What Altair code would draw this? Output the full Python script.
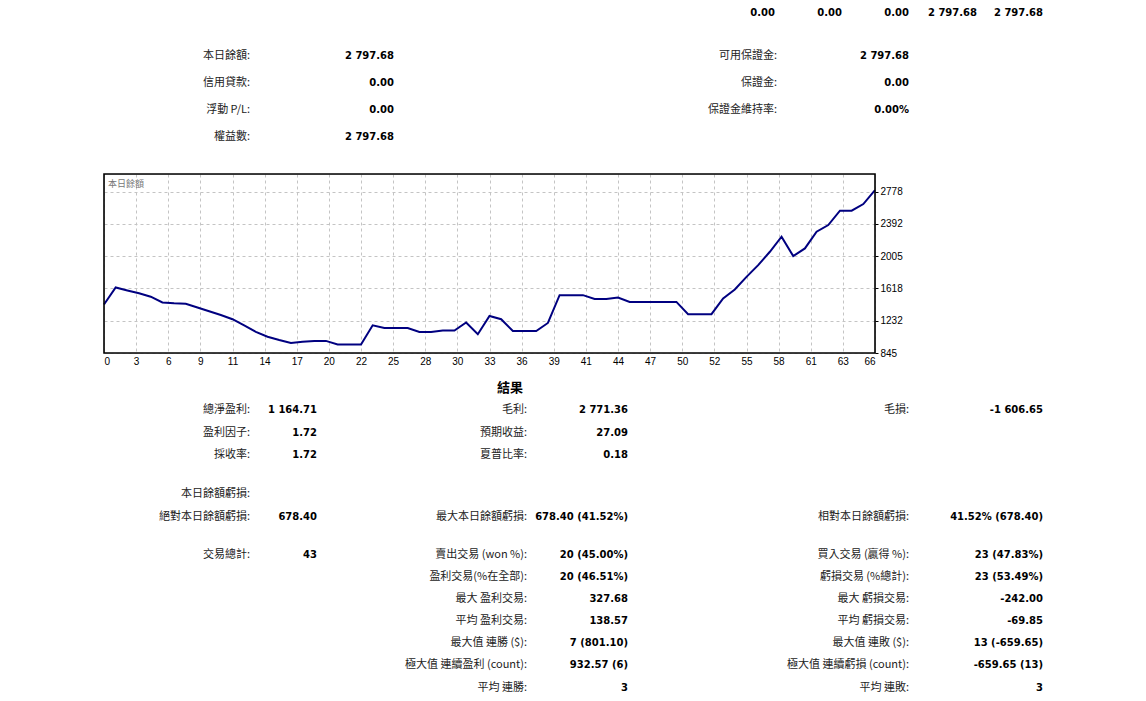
import altair as alt
import pandas as pd

# balance curve (index 0..66)
balance = [1426, 1630, 1595, 1560, 1520, 1450, 1440, 1435, 1390, 1345,
           1300, 1250, 1175, 1098, 1040, 1000, 965, 980, 990, 990,
           946, 946, 946, 1177, 1145, 1145, 1145, 1097, 1097, 1114,
           1114, 1210, 1070, 1289, 1250, 1109, 1109, 1109, 1205, 1538,
           1538, 1538, 1493, 1493, 1510, 1457, 1457, 1457, 1457, 1457,
           1310, 1310, 1310, 1498, 1606, 1757, 1898, 2058, 2238, 2006,
           2098, 2298, 2378, 2550, 2550, 2630, 2797.68]
x_labels = [0, 3, 6, 9, 11, 14, 17, 20, 22, 25, 28, 30, 33, 36, 39, 41,
            44, 47, 50, 52, 55, 58, 61, 63, 66]
y_ticks = [845, 1232, 1618, 2005, 2392, 2778]
chart_caption = "本日餘額"

# report texts
top_values = ["0.00", "0.00", "0.00", "2 797.68", "2 797.68"]
account_labels = ["本日餘額:", "信用貸款:", "浮動 P/L:", "權益數:"]
account_values = ["2 797.68", "0.00", "0.00", "2 797.68"]
margin_labels = ["可用保證金:", "保證金:", "保證金維持率:"]
margin_values = ["2 797.68", "0.00", "0.00%"]
results_title = "結果"
res_left = [("總淨盈利:", "1 164.71"), ("盈利因子:", "1.72"), ("採收率:", "1.72"),
            ("本日餘額虧損:", ""), ("絕對本日餘額虧損:", "678.40")]
res_mid = [("毛利:", "2 771.36"), ("預期收益:", "27.09"), ("夏普比率:", "0.18"),
           None, ("最大本日餘額虧損:", "678.40 (41.52%)")]
res_right = [("毛損:", "-1 606.65"), None, None, None, ("相對本日餘額虧損:", "41.52% (678.40)")]
trade_left = [("交易總計:", "43")]
trade_mid = [("賣出交易 (won %):", "20 (45.00%)"), ("盈利交易(%在全部):", "20 (46.51%)"),
             ("最大 盈利交易:", "327.68"), ("平均 盈利交易:", "138.57"),
             ("最大值 連勝 ($):", "7 (801.10)"), ("極大值 連續盈利 (count):", "932.57 (6)"),
             ("平均 連勝:", "3")]
trade_right = [("買入交易 (贏得 %):", "23 (47.83%)"), ("虧損交易 (%總計):", "23 (53.49%)"),
               ("最大 虧損交易:", "-242.00"), ("平均 虧損交易:", "-69.85"),
               ("最大值 連敗 ($):", "13 (-659.65)"), ("極大值 連續虧損 (count):", "-659.65 (13)"),
               ("平均 連敗:", "3")]

# layout (page pixels); plot box top-left sits at (104, 174)
ORIGIN = (104, 174)
W, H = 771, 179
top_cols, top_y = [775, 842, 909, 977, 1043], 13
block_rows = [56, 83, 110, 137]
res_rows = [410, 433, 455, 494, 517]
trade_rows = [555, 577, 599, 621, 643, 665, 688]
col_left, col_mid, col_right = (250, 317), (527, 628), (909, 1043)

labels, values = [], []


def put(rows_y, pairs, cols):
    for y, pair in zip(rows_y, pairs):
        if pair is None:
            continue
        labels.append({"t": pair[0], "px": cols[0] - ORIGIN[0], "py": y - ORIGIN[1]})
        if pair[1]:
            values.append({"t": pair[1], "px": cols[1] - ORIGIN[0], "py": y - ORIGIN[1]})


for x, v in zip(top_cols, top_values):
    values.append({"t": v, "px": x - ORIGIN[0], "py": top_y - ORIGIN[1]})
put(block_rows, list(zip(account_labels, account_values)), (250, 394))
put(block_rows, list(zip(margin_labels, margin_values)), (777, 909))
put(res_rows, res_left, col_left)
put(res_rows, res_mid, col_mid)
put(res_rows, res_right, col_right)
put(trade_rows, trade_left, col_left)
put(trade_rows, trade_mid, col_mid)
put(trade_rows, trade_right, col_right)

df = pd.DataFrame({"idx": list(range(len(balance))), "balance": balance})
step = x_labels[-1] / (len(x_labels) - 1)
label_expr = "[" + ",".join(str(v) for v in x_labels) + f"][round(datum.value / {step})]"

line = alt.Chart(df).mark_line(color="#000080", strokeWidth=2).encode(
    x=alt.X("idx:Q", scale=alt.Scale(domain=[0, x_labels[-1]], nice=False, zero=False),
            axis=alt.Axis(values=[i * step for i in range(len(x_labels))], labelExpr=label_expr,
                          title=None, ticks=False, domain=False, grid=True,
                          gridDash=[3, 3], gridColor="#c4c4c4", labelPadding=3)),
    y=alt.Y("balance:Q", scale=alt.Scale(domain=[845, 2990], nice=False, zero=False),
            axis=alt.Axis(orient="right", values=y_ticks, format="d", title=None, domain=False,
                          tickSize=3, tickColor="#000", grid=True, gridDash=[3, 3],
                          gridColor="#c4c4c4", labelPadding=2)),
)

# black frame round the plot box
frame = alt.Chart(pd.DataFrame({"f": [0]})).mark_rect(
    fillOpacity=0, stroke="#000000", strokeOpacity=1, strokeWidth=1.6
).encode(x=alt.value(0), x2=alt.value(W), y=alt.value(0), y2=alt.value(H))

pos = dict(x=alt.X("px:Q", scale=None, axis=None), y=alt.Y("py:Q", scale=None, axis=None))

caption = alt.Chart(pd.DataFrame([{"t": chart_caption, "px": 4, "py": 10}])).mark_text(
    align="left", baseline="middle", font="Noto Sans CJK TC", fontSize=9, color="#777"
).encode(text="t:N", **pos)

label_layer = alt.Chart(pd.DataFrame(labels)).mark_text(
    align="right", baseline="middle", font="Noto Sans CJK TC", fontSize=11, color="#222"
).encode(text="t:N", **pos)

value_layer = alt.Chart(pd.DataFrame(values)).mark_text(
    align="right", baseline="middle", font="DejaVu Sans", fontSize=10, fontWeight="bold",
    color="#000"
).encode(text="t:N", **pos)

title_layer = alt.Chart(pd.DataFrame([{"t": results_title, "px": 510 - ORIGIN[0],
                                       "py": 388 - ORIGIN[1]}])).mark_text(
    align="center", baseline="middle", font="Noto Sans CJK TC", fontSize=13,
    fontWeight="bold", color="#000"
).encode(text="t:N", **pos)

chart = (
    alt.layer(line, frame, caption, label_layer, value_layer, title_layer)
    .properties(
        width=W, height=H,
        autosize=alt.AutoSizeParams(type="none"),
        padding={"left": ORIGIN[0] - 8, "top": ORIGIN[1] - 8,
                 "right": 1130 - (ORIGIN[0] - 8) - W, "bottom": 685 - (ORIGIN[1] - 8) - H},
    )
    .configure_view(strokeWidth=0)
    .configure_axis(labelFont="DejaVu Sans", labelFontSize=9, labelColor="#000")
    .configure(background="#ffffff")
)

chart.save("out.html", embed_options={"renderer": "svg", "actions": False})
